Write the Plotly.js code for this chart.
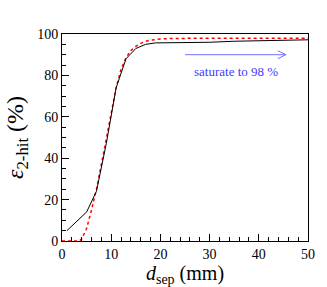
<!DOCTYPE html>
<html><head><meta charset="utf-8">
<script src="https://cdn.plot.ly/plotly-3.0.1.min.js"></script>
<style>html,body{margin:0;padding:0;background:#fff}</style>
</head><body>
<div id="chart" style="width:327px;height:287px"></div>
<script>
// Measured efficiency (black solid)
const measX = [1, 3, 5, 7, 9, 11, 13, 15, 17, 19, 25, 30, 35, 40, 45, 50];
const measY = [5, 9.5, 14, 24, 47, 74, 88, 93, 95, 95.7, 95.8, 96, 96.5, 96.8, 97, 97.2];
// Fit curve (red dotted)
const fitX = [0, 1, 2, 3, 3.5, 4, 5, 6, 7, 8, 9, 10, 11, 12, 13, 14, 15, 16, 17, 18, 19, 20, 22, 25, 30, 40, 50];
const fitY = [0, 0, 0, 0, 0, 1, 6, 15, 25, 37, 50, 63, 74, 83, 88.5, 92, 94, 95.5, 96.5, 97, 97.4, 97.6, 97.8, 97.9, 98, 98, 98];
const noteText = "saturate to 98 %";
const arrowX = [25, 45.5];
const arrowY = 90;

const font = "Liberation Serif";
const traces = [
  {x: fitX, y: fitY, mode: 'lines', line: {color: '#ff0000', width: 1.5, dash: 'dot'}, hoverinfo: 'skip'},
  {x: measX, y: measY, mode: 'lines', line: {color: '#000000', width: 1}, hoverinfo: 'skip'}
];
const axisCommon = {
  ticks: 'inside', ticklen: 7, tickwidth: 1, tickcolor: '#000',
  showline: true, linecolor: '#000', linewidth: 1, mirror: true,
  showgrid: false, zeroline: false,
  tickfont: {family: font, size: 14, color: '#000'}
};
const layout = {
  width: 327, height: 287,
  font: {family: font},
  margin: {l: 62, r: 19, t: 34, b: 46},
  paper_bgcolor: '#fff', plot_bgcolor: '#fff',
  showlegend: false,
  xaxis: Object.assign({}, axisCommon, {
    range: [0, 50], dtick: 10, tick0: 0,
    minor: {dtick: 2, ticklen: 4, tickcolor: '#000', ticks: 'inside'},
    title: {text: '<i>d</i><sub>sep</sub> (mm)', font: {family: font, size: 20, color: '#000'}, standoff: 7}
  }),
  yaxis: Object.assign({}, axisCommon, {
    range: [0, 100], dtick: 20, tick0: 0,
    minor: {dtick: 5, ticklen: 4, tickcolor: '#000', ticks: 'inside'},
    ticklabelstandoff: 0,
    title: {text: '<i>ε</i><sub>2-hit</sub> (%)', font: {family: font, size: 24, color: '#000'}, standoff: 6}
  }),
  annotations: [
    {x: 35.3, y: 82, xref: 'x', yref: 'y', showarrow: false, text: noteText,
     font: {family: font, size: 13, color: '#3c3cff'}}
  ],
  shapes: [
    {type: 'line', xref: 'x', yref: 'y', x0: arrowX[0], x1: arrowX[1], y0: arrowY, y1: arrowY,
     line: {color: '#7070ff', width: 1}},
    {type: 'path', xref: 'x', yref: 'y', xsizemode: 'pixel', ysizemode: 'pixel',
     xanchor: arrowX[1], yanchor: arrowY, path: 'M-8,-4 L0,0 L-8,4', line: {color: '#7070ff', width: 1}}
  ]
};
Plotly.newPlot('chart', traces, layout, {staticPlot: true, displayModeBar: false});
</script>
</body></html>
